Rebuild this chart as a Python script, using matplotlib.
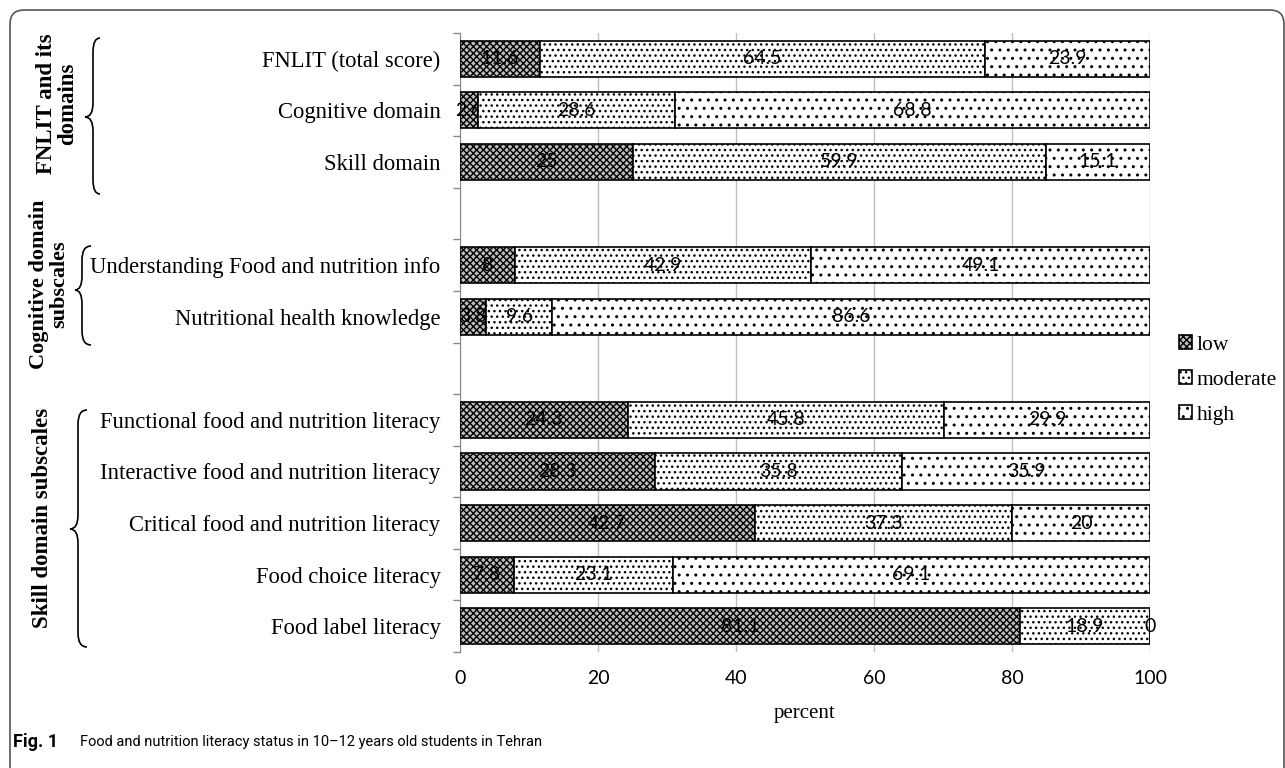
import matplotlib.pyplot as plt
import numpy as np
from matplotlib.path import Path
from matplotlib.patches import PathPatch, FancyBboxPatch
from matplotlib.transforms import IdentityTransform

# data (top to bottom), None rows are the gaps between groups
categories = ['FNLIT (total score)', 'Cognitive domain', 'Skill domain', None,
              'Understanding Food and nutrition info', 'Nutritional health knowledge', None,
              'Functional food and nutrition literacy', 'Interactive food and nutrition literacy',
              'Critical food and nutrition literacy', 'Food choice literacy', 'Food label literacy']
low = [11.6, 2.6, 25, None, 8, 3.8, None, 24.3, 28.3, 42.7, 7.8, 81.1]
moderate = [64.5, 28.6, 59.9, None, 42.9, 9.6, None, 45.8, 35.8, 37.3, 23.1, 18.9]
high = [23.9, 68.8, 15.1, None, 49.1, 86.6, None, 29.9, 35.9, 20, 69.1, 0]
series_names = ['low', 'moderate', 'high']
groups = ['FNLIT and its\ndomains', 'Cognitive domain\nsubscales', 'Skill domain subscales']

W, H = 1285, 768
serif = 'Liberation Serif'
sans = 'Lato'

fig = plt.figure(figsize=(W / 100, H / 100), dpi=100)
ax = fig.add_axes([460 / W, 1 - 652 / H, 690 / W, 619 / H])

hatches = ['xxxxx', '...', '..']
faces = ['#bdbdbd', 'white', 'white']
rows = [i for i, c in enumerate(categories) if c is not None]
left = np.zeros(len(rows))
handles = []
for vals, name, hatch, fc in zip([low, moderate, high], series_names, hatches, faces):
    v = np.array([vals[i] for i in rows], dtype=float)
    bc = ax.barh(rows, v, left=left, height=0.7, color=fc, edgecolor='black',
                 hatch=hatch, linewidth=1.2, label=name, zorder=3)
    ax.bar_label(bc, labels=[f'{x:g}' for x in v], label_type='center',
                 fontfamily=sans, fontsize=14, color='black')
    handles.append(bc)
    left += v

ax.set_ylim(len(categories) - 0.5, -0.5)
ax.set_xlim(0, 100)
ax.set_yticks(rows)
ax.set_yticklabels([categories[i] for i in rows], fontfamily=serif, fontsize=16.3)
ax.set_yticks(np.arange(-0.5, len(categories)), minor=True)
ax.tick_params(axis='y', which='major', length=0, pad=14)
ax.tick_params(axis='y', which='minor', length=5, color='#888888', width=1)
ax.set_xticks([0, 20, 40, 60, 80, 100])
ax.tick_params(axis='x', length=0, pad=13)
for t in ax.get_xticklabels():
    t.set_fontfamily(sans)
    t.set_fontsize(14)
ax.set_xlabel('percent', fontfamily=serif, fontsize=15, labelpad=12)
ax.grid(axis='x', color='#bfbfbf', linewidth=1, zorder=0)
for s in ['top', 'right', 'bottom']:
    ax.spines[s].set_visible(False)
ax.spines['left'].set_color('#888888')

leg = ax.legend(handles=handles, loc='upper left', bbox_to_anchor=(1160 / W, 1 - 316 / H),
                bbox_transform=fig.transFigure, frameon=False, handlelength=0.6,
                handleheight=0.6, handletextpad=0.2, labelspacing=0.72,
                prop={'family': serif, 'size': 15.5})


# curly braces, drawn in pixel coordinates (y from top)
def brace(x_tip, x_line, x_end, y_top, y_mid, y_bot, r=14):
    pts = [(x_end, y_top), (x_line, y_top), (x_line, y_top + r),
           (x_line, y_mid - r), (x_line, y_mid), (x_tip, y_mid),
           (x_line, y_mid), (x_line, y_mid + r),
           (x_line, y_bot - r), (x_line, y_bot), (x_end, y_bot)]
    codes = [Path.MOVETO, Path.CURVE3, Path.CURVE3, Path.LINETO, Path.CURVE3, Path.CURVE3,
             Path.CURVE3, Path.CURVE3, Path.LINETO, Path.CURVE3, Path.CURVE3]
    pts = [(x, H - y) for x, y in pts]
    fig.add_artist(PathPatch(Path(pts, codes), transform=IdentityTransform(),
                             fill=False, edgecolor='black', linewidth=1.2))


brace(85, 93, 100, 38, 117, 194)
brace(75, 82, 91, 246, 290, 345)
brace(70, 78, 87, 410, 529, 647)

fig.text(57 / W, 1 - 104 / H, groups[0], rotation=90, ha='center', va='center',
         fontfamily=serif, fontweight='bold', fontsize=16.5, linespacing=1.05)
fig.text(49 / W, 1 - 284 / H, groups[1], rotation=90, ha='center', va='center',
         fontfamily=serif, fontweight='bold', fontsize=16, linespacing=1.05)
fig.text(43 / W, 1 - 518 / H, groups[2], rotation=90, ha='center', va='center',
         fontfamily=serif, fontweight='bold', fontsize=16.5)

# frame and caption
frame = FancyBboxPatch((10, -30), W - 11, H - 10 + 30,
                       boxstyle='round,pad=0,rounding_size=14', transform=IdentityTransform(),
                       fill=False, edgecolor='#555555', linewidth=1.2)
fig.add_artist(frame)
fig.text(13 / W, 1 - 742 / H, 'Fig. 1', fontfamily='Roboto', fontweight='bold',
         fontsize=13, va='center')
fig.text(80 / W, 1 - 742 / H, 'Food and nutrition literacy status in 10\u201312 years old students in Tehran',
         fontfamily='Roboto', fontsize=10.5, va='center')

fig.savefig('out.png', dpi=100)
